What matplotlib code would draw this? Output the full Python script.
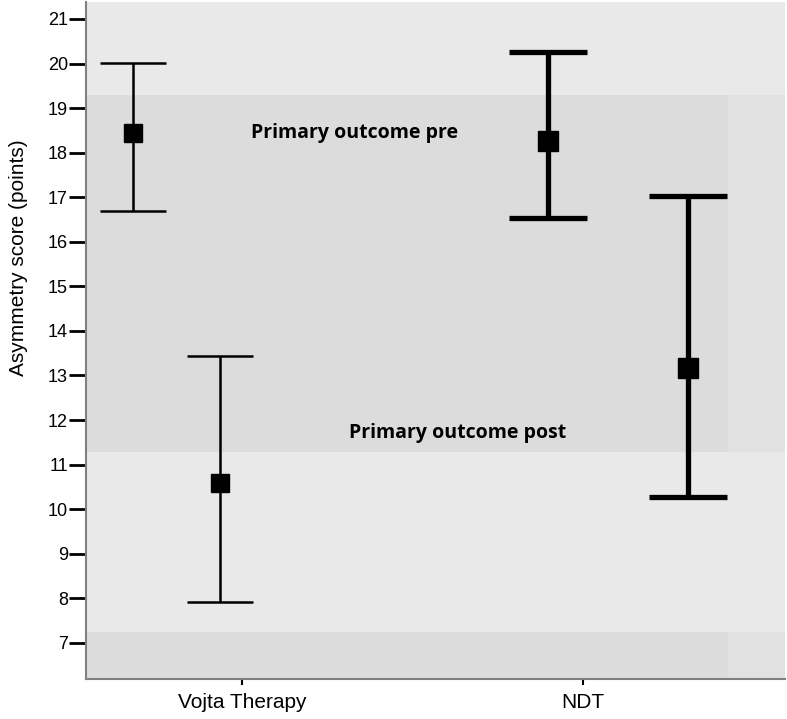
import matplotlib
matplotlib.use("Agg")
import matplotlib.pyplot as plt
import numpy as np

groups = ["Vojta Therapy", "NDT"]
phases = ["pre", "post"]
# mean, lower CI, upper CI per group and phase
means = {"Vojta Therapy": [18.43, 10.59], "NDT": [18.26, 13.17]}
lower = {"Vojta Therapy": [16.69, 7.92], "NDT": [16.54, 10.28]}
upper = {"Vojta Therapy": [20.02, 13.44], "NDT": [20.26, 17.03]}
band_labels = ["Primary outcome pre", "Primary outcome post"]
yticks = list(range(7, 22))

fig = plt.figure(figsize=(7.87, 7.19), dpi=100)
ax = fig.add_axes([86/787, 40/719, 699/787, 677/719])

xmin, xmax = -0.4575, 1.592
ymin, ymax = 6.19, 21.38
ax.set_xlim(xmin, xmax)
ax.set_ylim(ymin, ymax)

light = "#e9e9e9"
dark = "#dcdcdc"
ax.set_facecolor(light)
strip_x = 1.425
ax.fill_between([xmin, strip_x], 11.29, 19.30, color=dark, lw=0, zorder=0)
ax.fill_between([xmin, strip_x], ymin, 7.25, color=dark, lw=0, zorder=0)
ax.fill_between([strip_x, xmax], 11.29, 19.30, color="#e1e1e1", lw=0, zorder=0)
ax.fill_between([strip_x, xmax], ymin, 7.25, color="#e1e1e1", lw=0, zorder=0)

# offsets of pre/post markers within each group
offsets = {"Vojta Therapy": [-0.3196, -0.0645], "NDT": [-0.1026, 0.3079]}
styles = {"Vojta Therapy": dict(lw=1.8, cap=0.098, ms=13),
          "NDT": dict(lw=3.8, cap=0.114, ms=14.5)}

for gi, g in enumerate(groups):
    st = styles[g]
    for pi in range(2):
        x = gi + offsets[g][pi]
        lo, hi, m = lower[g][pi], upper[g][pi], means[g][pi]
        ax.plot([x, x], [lo, hi], color="black", lw=st["lw"], zorder=3, solid_capstyle="butt")
        for yy in (lo, hi):
            ax.plot([x - st["cap"], x + st["cap"]], [yy, yy], color="black",
                    lw=st["lw"], zorder=3, solid_capstyle="butt")
        ax.plot([x], [m], marker="s", color="black", ms=st["ms"], zorder=4)

ax.text(0.331, 18.44, band_labels[0], ha="center", va="center",
        fontsize=14, fontweight="bold", family="Open Sans", zorder=5)
ax.text(0.633, 11.72, band_labels[1], ha="center", va="center",
        fontsize=14, fontweight="bold", family="Open Sans", zorder=5)

ax.set_yticks(yticks)
ax.set_yticklabels([str(t) for t in yticks], fontsize=13, family="Liberation Sans")
ax.set_xticks([0, 1])
ax.set_xticklabels(groups, fontsize=15, family="Liberation Sans")
ax.tick_params(axis="y", length=12, width=2, color="black", pad=1)
ax.tick_params(axis="x", length=4, width=1.5, color="black", pad=6)
ax.set_ylabel("Asymmetry score (points)", fontsize=15, family="Liberation Sans")
ax.yaxis.set_label_coords(-0.083, 0.623)

for s in ["top", "right"]:
    ax.spines[s].set_visible(False)
for s in ["left", "bottom"]:
    ax.spines[s].set_color("#808080")
    ax.spines[s].set_linewidth(1.5)

fig.savefig("out.png", dpi=100, facecolor="white")
